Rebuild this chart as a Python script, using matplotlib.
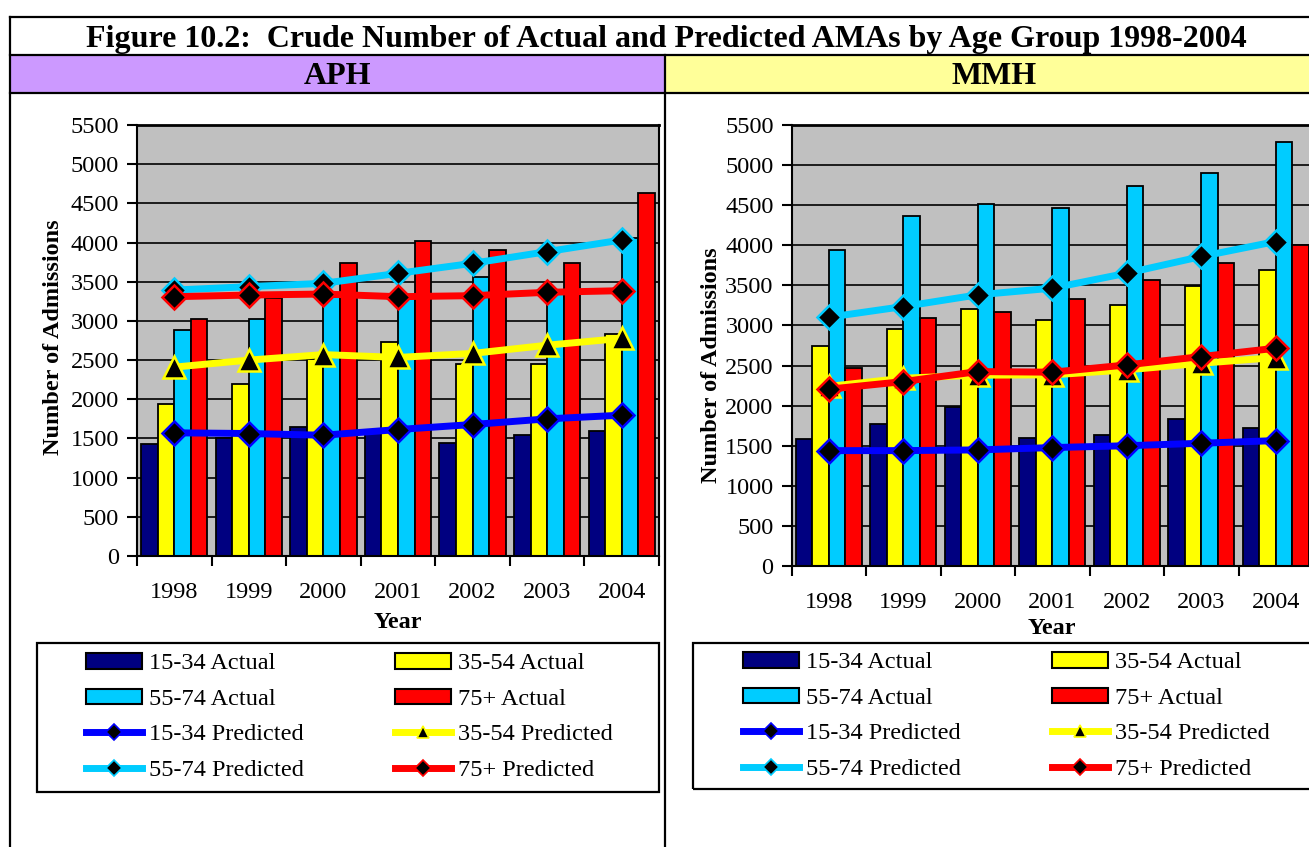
import numpy as np
import matplotlib
matplotlib.use("Agg")
import matplotlib.pyplot as plt
from matplotlib.patches import Patch, Rectangle
from matplotlib.lines import Line2D

plt.rcParams['font.family'] = ['Liberation Serif', 'DejaVu Serif']

W, H = 1309, 847

years = ['1998', '1999', '2000', '2001', '2002', '2003', '2004']
groups = ['15-34', '35-54', '55-74', '75+']

# APH
aph_actual_1534 = [1435, 1500, 1648, 1610, 1444, 1550, 1593]
aph_actual_3554 = [1938, 2189, 2520, 2734, 2445, 2445, 2828]
aph_actual_5574 = [2883, 3024, 3300, 3300, 3565, 3350, 4055]
aph_actual_75 = [3024, 3290, 3735, 4025, 3905, 3735, 4630]
aph_pred_1534 = [1572, 1563, 1541, 1614, 1678, 1750, 1797]
aph_pred_3554 = [2410, 2500, 2570, 2534, 2585, 2690, 2777]
aph_pred_5574 = [3394, 3437, 3480, 3607, 3735, 3884, 4033]
aph_pred_75 = [3309, 3330, 3343, 3309, 3322, 3365, 3386]

# MMH
mmh_actual_1534 = [1581, 1768, 1988, 1601, 1635, 1834, 1718]
mmh_actual_3554 = [2750, 2953, 3207, 3070, 3249, 3486, 3686]
mmh_actual_5574 = [3943, 4359, 4513, 4463, 4734, 4900, 5283]
mmh_actual_75 = [2467, 3095, 3174, 3332, 3561, 3785, 3998]
mmh_pred_1534 = [1439, 1439, 1448, 1477, 1500, 1531, 1564]
mmh_pred_3554 = [2240, 2342, 2380, 2384, 2446, 2529, 2600]
mmh_pred_5574 = [3103, 3236, 3382, 3465, 3652, 3860, 4047]
mmh_pred_75 = [2205, 2300, 2425, 2417, 2508, 2612, 2716]

bar_colors = ['#000080', '#FFFF00', '#00CCFF', '#FF0000']
line_colors = ['#0000FF', '#FFFF00', '#00CCFF', '#FF0000']
line_markers = ['D', '^', 'D', 'D']

FS = 17.5


def px_axes(fig, x0, y0, x1, y1):
    return fig.add_axes([x0 / W, 1 - y1 / H, (x1 - x0) / W, (y1 - y0) / H])


def fig_line(fig, xs, ys, lw=1.5):
    fig.add_artist(Line2D([x / W for x in xs], [1 - y / H for y in ys],
                          color='black', lw=lw, transform=fig.transFigure))


def px_to_axes(ax, xpx, ypx):
    # figure pixel position -> axes coordinates
    bb = ax.get_position()
    x0, x1 = bb.x0 * W, bb.x1 * W
    y_top, y_bot = (1 - bb.y1) * H, (1 - bb.y0) * H
    ax_x = 0.5 if xpx is None else (xpx - x0) / (x1 - x0)
    ax_y = (y_bot - ypx) / (y_bot - y_top)
    return ax_x, ax_y


def draw_chart(ax, actual, pred, ylab_x, ylab_y, year_y):
    n = len(years)
    x = np.arange(n)
    bw = 1 / 4.5
    for k in range(4):
        ax.bar(x + (k - 1.5) * bw, actual[k], bw, color=bar_colors[k],
               edgecolor='black', linewidth=1.3, zorder=2)
    for k in range(4):
        ms = 16 if line_markers[k] == '^' else 12.5
        ax.plot(x, pred[k], color=line_colors[k], lw=5, marker=line_markers[k],
                ms=ms, mfc='black', mec=line_colors[k], mew=1.8, zorder=3 + k,
                clip_on=False)
    ax.set_facecolor('#C0C0C0')
    ax.set_xlim(-0.5, n - 0.5)
    ax.set_ylim(0, 5500)
    ax.set_yticks(np.arange(0, 5501, 500))
    ax.yaxis.grid(True, color='black', lw=1.2, zorder=1)
    ax.set_axisbelow(True)
    ax.tick_params(axis='y', labelsize=FS, length=7, width=1.5, pad=6)
    ax.set_xticks(np.arange(-0.5, n, 1))
    ax.set_xticklabels([])
    ax.set_xticks(x, minor=True)
    ax.set_xticklabels(years, minor=True)
    ax.tick_params(axis='x', which='major', length=7, width=1.5)
    ax.tick_params(axis='x', which='minor', length=0, labelsize=FS, pad=19)
    for s in ax.spines.values():
        s.set_linewidth(1.5)
    ax.spines['top'].set_linewidth(2)
    ax.set_ylabel('Number of Admissions', fontsize=FS, fontweight='bold')
    ax.yaxis.set_label_coords(*px_to_axes(ax, ylab_x + 12, ylab_y))
    ax.set_xlabel('Year', fontsize=FS, fontweight='bold')
    ax.xaxis.set_label_coords(*px_to_axes(ax, None, year_y - 10))


def draw_legend(ax, x0, x1, row1_y, box):
    fig = ax.figure
    patches = [Patch(facecolor=c, edgecolor='black', lw=1.5) for c in bar_colors]
    lines = [Line2D([], [], color=line_colors[k], lw=5, marker=line_markers[k],
                    ms=9 if line_markers[k] == '^' else 8.5, mfc='black',
                    mec=line_colors[k], mew=1.2) for k in range(4)]
    labels_a = [g + ' Actual' for g in groups]
    labels_p = [g + ' Predicted' for g in groups]
    # column-major order: left column then right column
    handles = [patches[0], patches[2], lines[0], lines[2],
               patches[1], patches[3], lines[1], lines[3]]
    labels = [labels_a[0], labels_a[2], labels_p[0], labels_p[2],
              labels_a[1], labels_a[3], labels_p[1], labels_p[3]]
    ytop = row1_y - 9
    ax.legend(handles, labels, ncol=2, mode='expand', frameon=False,
              loc='upper left', fontsize=FS,
              bbox_to_anchor=(x0 / W, 1 - ytop / H, (x1 - x0) / W, 0),
              bbox_transform=fig.transFigure,
              handlelength=2.3, handleheight=0.62, handletextpad=0.3,
              labelspacing=0.58, borderpad=0, borderaxespad=0)
    bx0, by0, bx1, by1 = box
    fig.add_artist(Rectangle((bx0 / W, 1 - by1 / H), (bx1 - bx0) / W,
                             (by1 - by0) / H, fill=False, ec='black', lw=1.6,
                             transform=fig.transFigure))


fig = plt.figure(figsize=(W / 100, H / 100), dpi=100)

# table frame and header cells
fig.add_artist(Rectangle((10 / W, 1 - 93 / H), 655 / W, 38 / H, fc='#CC99FF',
                         ec='none', transform=fig.transFigure))
fig.add_artist(Rectangle((665 / W, 1 - 93 / H), 660 / W, 38 / H, fc='#FFFF99',
                         ec='none', transform=fig.transFigure))
fig_line(fig, [10, 1320], [17, 17], 1.6)
fig_line(fig, [10, 1320], [55, 55], 1.6)
fig_line(fig, [10, 1320], [93, 93], 1.6)
fig_line(fig, [10, 10], [17, 850], 1.6)
fig_line(fig, [665, 665], [55, 850], 1.6)

fig.text(666 / W, 1 - 47 / H,
         'Figure 10.2:  Crude Number of Actual and Predicted AMAs by Age Group 1998-2004',
         ha='center', va='baseline', fontsize=23, fontweight='bold')
fig.text(337.5 / W, 1 - 84 / H, 'APH', ha='center', va='baseline',
         fontsize=23, fontweight='bold')
fig.text(994 / W, 1 - 84 / H, 'MMH', ha='center', va='baseline',
         fontsize=23, fontweight='bold')

aph_actual = [aph_actual_1534, aph_actual_3554, aph_actual_5574, aph_actual_75]
aph_pred = [aph_pred_1534, aph_pred_3554, aph_pred_5574, aph_pred_75]
mmh_actual = [mmh_actual_1534, mmh_actual_3554, mmh_actual_5574, mmh_actual_75]
mmh_pred = [mmh_pred_1534, mmh_pred_3554, mmh_pred_5574, mmh_pred_75]

ax1 = px_axes(fig, 137, 125, 659, 556)
draw_chart(ax1, aph_actual, aph_pred, 52, 337, 622)
draw_legend(ax1, 86, 613, 662, (37, 643, 659, 792))

ax2 = px_axes(fig, 791.6, 125, 1313, 566)
draw_chart(ax2, mmh_actual, mmh_pred, 710, 365, 628)
draw_legend(ax2, 743, 1270, 661, (693, 643, 1316, 789))

fig.savefig('out.png', dpi=100)
